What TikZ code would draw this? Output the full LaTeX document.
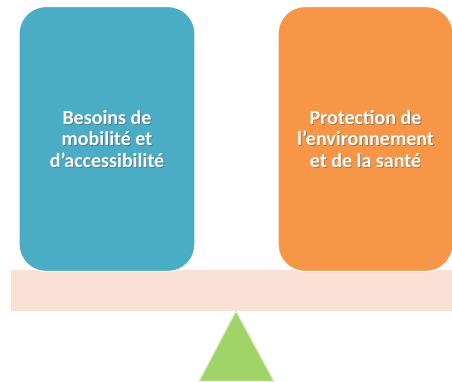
\documentclass[tikz,border=0pt]{standalone}
\usepackage{fontspec}
\setmainfont{Carlito}
\usepackage{tikz}
\usetikzlibrary{positioning}

\definecolor{needblue}{HTML}{4BACC6}
\definecolor{envorange}{HTML}{F79646}
\definecolor{beampink}{HTML}{FBE0D6}
\definecolor{pivotgreen}{HTML}{A0D468}
\definecolor{pivotedge}{HTML}{DDF0C8}

\begin{document}
\begin{tikzpicture}[x=1pt,y=1pt,
        pan/.style={draw=white, line width=1.2pt, rounded corners=27pt,
                    minimum width=176pt, minimum height=265pt, inner sep=0pt},
        label/.style={text=white, font=\bfseries\fontsize{20}{21.6}\selectfont, align=center},
        labelshadow/.style={label, text=black!70, opacity=0.45}]
        \useasboundingbox (0,0) rectangle (452,382);

        % beam
        \fill[beampink] (11,71) rectangle (470,112);

        % pivot
        \coordinate (apex) at (236,71);
        \coordinate (baseL) at (199,0.8);
        \coordinate (baseR) at (274,0.8);
        \filldraw[fill=pivotgreen, draw=pivotedge, line width=1.2pt] (apex) -- (baseR) -- (baseL) -- cycle;

        % pans
        \node[pan, fill=needblue] (needs) at (107,243) {};
        \node[pan, fill=envorange, minimum width=175pt] (env) at (365.5,243) {};

        \node[labelshadow] at ([shift={(0.9,-0.9)}]needs.center) {Besoins de\\mobilité et\\d’accessibilité};
        \node[label] (needstext) at (needs.center) {Besoins de\\mobilité et\\d’accessibilité};
        \node[labelshadow] at ([shift={(0.9,-0.9)}]env.center) {Protection de\\l’environnement\\et de la santé};
        \node[label] (envtext) at (env.center) {Protection de\\l’environnement\\et de la santé};
\end{tikzpicture}
\end{document}
